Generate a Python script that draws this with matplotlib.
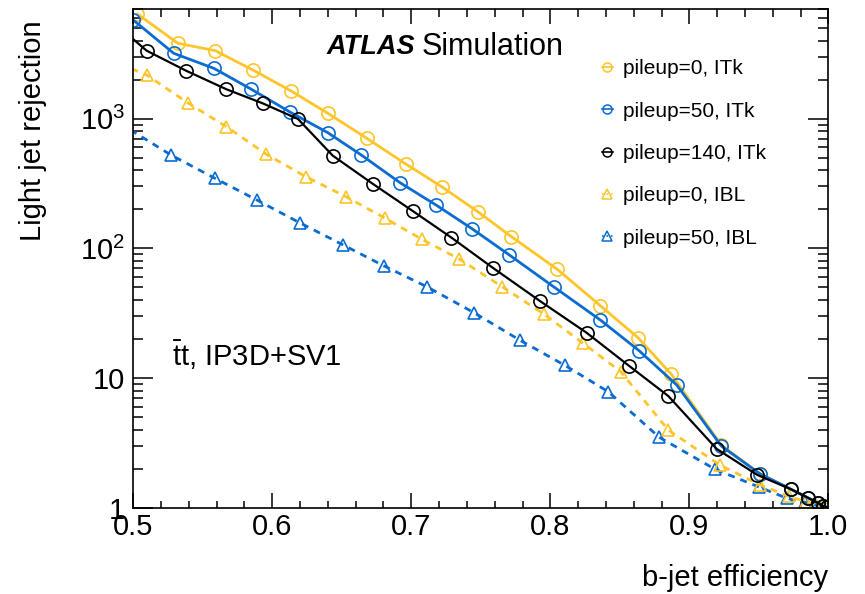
import numpy as np
import matplotlib
matplotlib.use('Agg')
from matplotlib import pyplot as plt
from matplotlib.lines import Line2D
from matplotlib.ticker import FixedLocator, FuncFormatter, MultipleLocator, LogLocator

plt.rcParams['font.family'] = ['Liberation Sans', 'DejaVu Sans']
plt.rcParams['mathtext.fontset'] = 'custom'
plt.rcParams['mathtext.rm'] = 'Liberation Sans'
plt.rcParams['mathtext.it'] = 'Liberation Sans:italic'
plt.rcParams['mathtext.bf'] = 'Liberation Sans:bold'

# b-jet efficiency / light jet rejection
eff_itk0 = [0.503, 0.532, 0.559, 0.586, 0.6135, 0.640, 0.668, 0.696, 0.722, 0.748, 0.772,
            0.805, 0.836, 0.863, 0.887, 0.923, 0.951, 0.973, 0.9856, 0.9928, 0.9962, 0.999]
rej_itk0 = [6400, 3810, 3340, 2370, 1634, 1098, 705, 447, 298, 191, 123,
            68.9, 36.1, 20.5, 10.7, 3.04, 1.82, 1.39, 1.19, 1.08, 1.03, 1.01]

eff_itk50 = [0.500, 0.529, 0.558, 0.585, 0.613, 0.640, 0.664, 0.692, 0.718, 0.7435, 0.7705,
             0.803, 0.836, 0.864, 0.891, 0.923, 0.951, 0.973, 0.9854, 0.9926, 0.996, 0.999]
rej_itk50 = [5750, 3190, 2440, 1682, 1119, 778, 524, 320, 215, 142, 88.9,
             50.0, 28.0, 16.2, 8.83, 2.99, 1.82, 1.39, 1.19, 1.08, 1.03, 1.01]

eff_itk140 = [0.490, 0.5096, 0.538, 0.567, 0.593, 0.6185, 0.6435, 0.6727, 0.701, 0.7288, 0.7586,
              0.7926, 0.8262, 0.8567, 0.8849, 0.9197, 0.9489, 0.973, 0.9856, 0.9926, 0.996, 0.999]
rej_itk140 = [5050, 3340, 2340, 1683, 1313, 993, 518, 312, 194, 121, 70.8,
              39.2, 22.3, 12.4, 7.26, 2.84, 1.79, 1.39, 1.19, 1.09, 1.03, 1.01]

eff_ibl0 = [0.490, 0.5096, 0.539, 0.567, 0.5955, 0.624, 0.653, 0.6814, 0.7078, 0.7345, 0.7653,
            0.7958, 0.8237, 0.8506, 0.8849, 0.9221, 0.9509, 0.9719, 0.984, 0.9912, 0.9955, 0.9984]
rej_ibl0 = [2650, 2170, 1326, 866, 533, 357, 250, 170, 117, 82.7, 50.6,
            30.9, 18.5, 11.2, 3.97, 2.13, 1.50, 1.22, 1.11, 1.05, 1.02, 1.005]

eff_ibl50 = [0.490, 0.5271, 0.5586, 0.5888, 0.6199, 0.6511, 0.6804, 0.7111, 0.7451, 0.778, 0.8106,
             0.8417, 0.8784, 0.9185, 0.9504, 0.9705, 0.9832, 0.9904, 0.9948, 0.9984]
rej_ibl50 = [925, 524, 347, 236, 157, 106, 73.1, 50.6, 31.9, 19.6, 12.5,
             7.84, 3.49, 1.98, 1.44, 1.18, 1.10, 1.05, 1.02, 1.005]

labels = ['pileup=0, ITk', 'pileup=50, ITk', 'pileup=140, ITk', 'pileup=0, IBL', 'pileup=50, IBL']

yellow = '#FDC52A'
blue = '#0A6BD1'

fig = plt.figure(figsize=(8.65, 5.94), dpi=100)
ax = fig.add_axes([133.3/865, 1-507.7/594, 695/865, 498.7/594])

dash = (0, (2.5, 2.2))
ax.plot(eff_ibl50, rej_ibl50, color=blue, lw=2, ls=dash, marker='^', ms=8.5, mfc='none', mew=1.2)
ax.plot(eff_ibl0, rej_ibl0, color=yellow, lw=2, ls=dash, marker='^', ms=8.5, mfc='none', mew=1.2)
ax.plot(eff_itk0, rej_itk0, color=yellow, lw=2, marker='o', ms=9.5, mfc='none', mew=1.2)
ax.plot(eff_itk50, rej_itk50, color=blue, lw=2, marker='o', ms=9.5, mfc='none', mew=1.2)
ax.plot(eff_itk140, rej_itk140, color='black', lw=1.6, marker='o', ms=9.5, mfc='none', mew=1.2)

ax.set_yscale('log')
ax.set_xlim(0.5, 1.0)
ax.set_ylim(1, 7000)

ax.xaxis.set_major_locator(MultipleLocator(0.1))
ax.xaxis.set_minor_locator(MultipleLocator(0.02))
ax.xaxis.set_major_formatter(FuncFormatter(lambda v, p: f'{v:.1f}'))
ax.yaxis.set_major_locator(FixedLocator([1, 10, 100, 1000]))
ax.yaxis.set_minor_locator(LogLocator(base=10, subs=np.arange(2, 10)))
ax.yaxis.set_minor_formatter(FuncFormatter(lambda v, p: ''))
ylab = {1: '1', 10: '10', 100: r'$10^{2}$', 1000: r'$10^{3}$'}
ax.yaxis.set_major_formatter(FuncFormatter(lambda v, p: ylab.get(int(round(v)), '')))

ax.tick_params(axis='both', which='both', direction='in', top=True, right=True,
               labelsize=21, width=1.1, color='black')
ax.tick_params(axis='x', which='major', length=10.8, pad=4)
ax.tick_params(axis='x', which='minor', length=5.4)
ax.tick_params(axis='y', which='major', length=14.5, pad=6)
ax.tick_params(axis='y', which='minor', length=7.5)
for s in ax.spines.values():
    s.set_linewidth(1.2)

ax.set_xlabel('b-jet efficiency', fontsize=21, loc='right')
ax.xaxis.set_label_coords(1.0, -0.113)
ax.set_ylabel('Light jet rejection', fontsize=21, loc='top')
ax.yaxis.set_label_coords(-0.124, 0.978)

ax.text(0.2787, 0.9238, 'ATLAS', transform=ax.transAxes, fontsize=19.5,
        fontweight='bold', fontstyle='italic', va='center', ha='left')
ax.text(0.4154, 0.9238, 'Simulation', transform=ax.transAxes, fontsize=22,
        va='center', ha='left')
ax.text(0.0557, 0.3062, r'$\mathrm{\bar{t}t}$, IP3D+SV1', transform=ax.transAxes,
        fontsize=21, va='center', ha='left')

handles = [
    Line2D([], [], color=yellow, lw=1.2, marker='o', ms=6.5, mfc='none', mew=1.1),
    Line2D([], [], color=blue, lw=1.2, marker='o', ms=6.5, mfc='none', mew=1.1),
    Line2D([], [], color='black', lw=1.2, marker='o', ms=6.5, mfc='none', mew=1.1),
    Line2D([], [], color=yellow, lw=1.2, ls=':', marker='^', ms=6.5, mfc='none', mew=1.1),
    Line2D([], [], color=blue, lw=1.2, ls=':', marker='^', ms=6.5, mfc='none', mew=1.1),
]
ax.legend(handles, labels, loc='upper left', bbox_to_anchor=(0.674, 0.899), frameon=False,
          fontsize=15, handlelength=0.55, handletextpad=0.45, labelspacing=1.12,
          borderpad=0, borderaxespad=0)

fig.savefig('out.png', dpi=100)
